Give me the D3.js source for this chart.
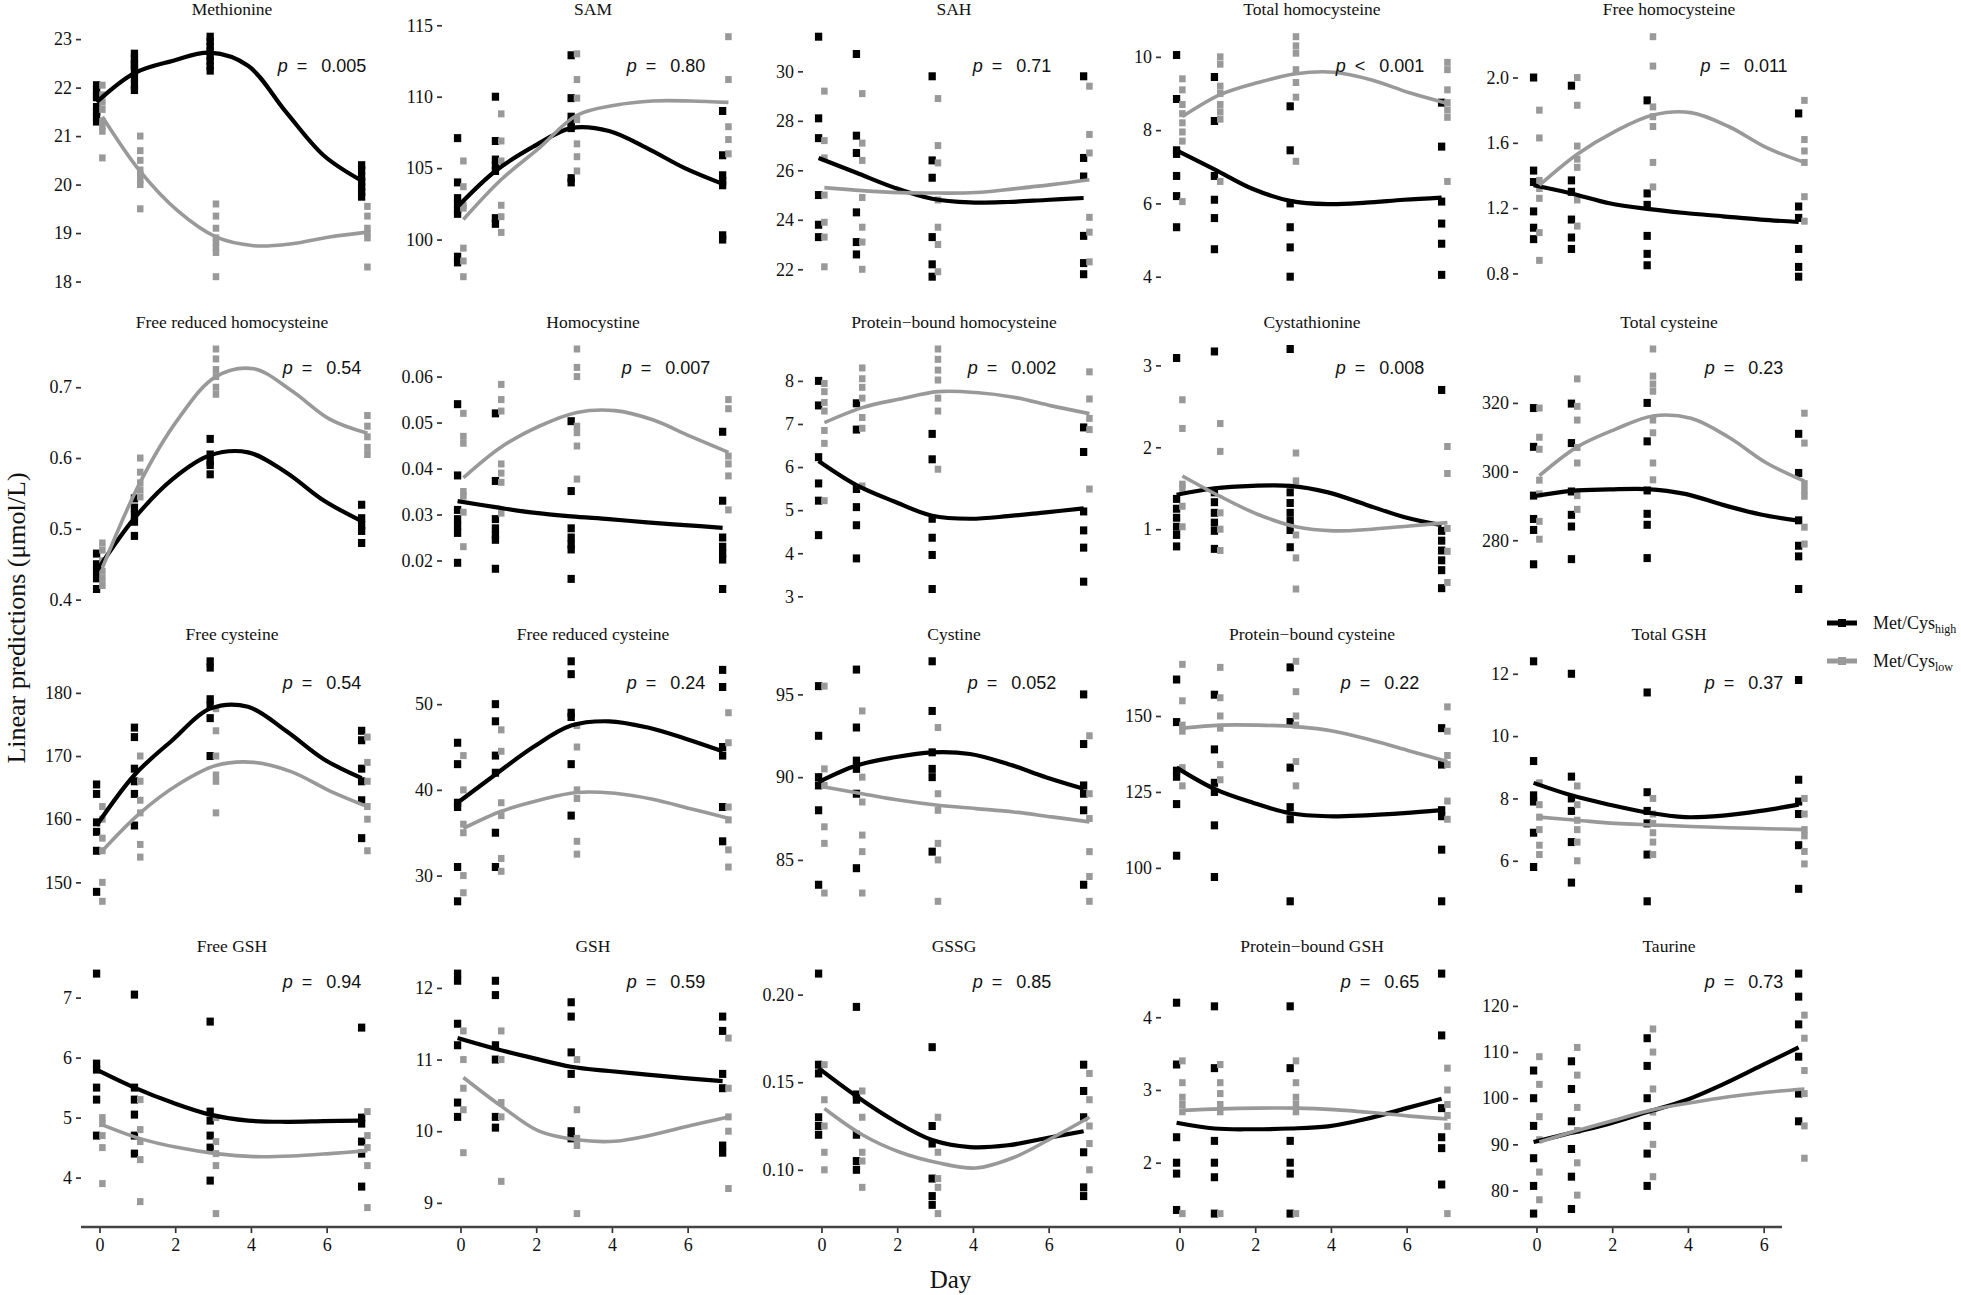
<!DOCTYPE html>
<html><head><meta charset="utf-8">
<script src="https://cdn.jsdelivr.net/npm/d3@7"></script>
<style>body{margin:0;background:#fff}</style>
</head><body><svg id="c" width="1961" height="1295" xmlns="http://www.w3.org/2000/svg"></svg>
<script>
// ---------------- DATA ----------------
const panelTitles = ["Methionine","SAM","SAH","Total homocysteine","Free homocysteine",
  "Free reduced homocysteine","Homocystine","Protein\u2212bound homocysteine","Cystathionine","Total cysteine",
  "Free cysteine","Free reduced cysteine","Cystine","Protein\u2212bound cysteine","Total GSH",
  "Free GSH","GSH","GSSG","Protein\u2212bound GSH","Taurine"];
const pSigns = ["=","=","=","<","=", "=","=","=","=","=", "=","=","=","=","=", "=","=","=","=","="];
const pValues = ["0.005","0.80","0.71","0.001","0.011", "0.54","0.007","0.002","0.008","0.23",
  "0.54","0.24","0.052","0.22","0.37", "0.94","0.59","0.85","0.65","0.73"];
const yTicks = [
  ["18","19","20","21","22","23"],["100","105","110","115"],["22","24","26","28","30"],["4","6","8","10"],["0.8","1.2","1.6","2.0"],
  ["0.4","0.5","0.6","0.7"],["0.02","0.03","0.04","0.05","0.06"],["3","4","5","6","7","8"],["1","2","3"],["280","300","320"],
  ["150","160","170","180"],["30","40","50"],["85","90","95"],["100","125","150"],["6","8","10","12"],
  ["4","5","6","7"],["9","10","11","12"],["0.10","0.15","0.20"],["2","3","4"],["80","90","100","110","120"]
];
const xTicks = [0, 2, 4, 6];
const pointDays = [0, 1, 3, 7];
const curveDays = [0, 1, 2, 3, 4, 5, 6, 7];
const groupNames = ["high", "low"];

// individual observations, Met/Cys high, per panel: [day0, day1, day3, day7]
const highPoints = [
  [[22.05,21.95,21.85,21.8,21.6,21.5,21.4,21.3],[22.7,22.6,22.5,22.45,22.35,22.2,22.05,21.95],[23.05,22.95,22.85,22.75,22.65,22.55,22.45,22.35],[20.4,20.3,20.15,20.05,19.95,19.85,19.75]],
  [[107.1,104.0,102.9,102.5,102.1,101.8,98.8,98.4],[110.0,106.9,105.6,105.2,104.8,101.5,101.1],[112.9,109.9,108.6,108.2,107.8,104.3,104.0],[109.0,105.9,104.5,104.1,103.8,100.3,100.0]],
  [[31.4,28.1,27.3,25.0,23.8,23.3],[30.7,27.4,26.7,24.3,23.1,22.6],[29.8,26.4,25.7,23.3,22.2,21.7],[29.8,26.5,25.75,23.35,22.25,21.8]],
  [[10.05,8.85,7.45,7.35,6.75,6.2,5.35],[9.45,8.25,6.75,6.1,5.6,4.75],[8.65,7.45,6.0,5.35,4.8,4.0],[8.75,7.55,6.05,5.45,4.9,4.05]],
  [[2.0,1.43,1.36,1.18,1.08,1.01],[1.95,1.37,1.30,1.13,1.02,0.95],[1.86,1.29,1.22,1.03,0.92,0.85],[1.78,1.21,1.14,0.95,0.84,0.78]],
  [[0.465,0.45,0.44,0.43,0.415],[0.543,0.53,0.52,0.51,0.49],[0.627,0.605,0.595,0.59,0.577],[0.534,0.515,0.505,0.497,0.48]],
  [[0.054,0.0385,0.031,0.029,0.0275,0.026,0.0195],[0.052,0.0373,0.029,0.027,0.0255,0.0245,0.0182],[0.0503,0.0351,0.027,0.025,0.0235,0.0224,0.016],[0.048,0.033,0.025,0.023,0.0215,0.0202,0.0138]],
  [[8.0,7.43,6.23,5.62,5.22,4.42],[7.48,6.87,5.49,5.07,4.65,3.88],[6.77,6.18,4.8,4.36,3.96,3.17],[6.92,6.35,4.97,4.53,4.13,3.34]],
  [[3.09,1.37,1.25,1.14,1.03,0.93,0.79],[3.17,1.45,1.33,1.2,1.08,0.98,0.76],[3.2,1.45,1.32,1.2,1.1,0.99,0.78],[2.70,0.98,0.86,0.74,0.62,0.5,0.28]],
  [[318.5,307.2,293,286.2,283,273],[319.8,308.3,294.2,287.4,284,274.5],[320,308.8,294.5,287.7,284.5,274.8],[311,299.6,285.8,278.4,275.3,265.8]],
  [[165.5,164,159.5,158,155,148.5],[174.5,173,168,166,164,159],[185,184,179,178,176,170],[174,172.5,168,166,163,157]],
  [[45.5,43,38.5,38,31,27],[50,48,44,42,35,31],[55,53.5,49,48.5,43,37],[54,52,45,44,38,34]],
  [[95.5,92.5,90,89.5,88,83.5],[96.5,93,91,90.5,89,84.5],[97,94,91.5,90.5,90,85.5],[95,92,89.5,89,88,83.5]],
  [[162,148,132,130,121,104],[157,139,128,125,114,97],[166,148,133,120,116,89],[146,134,119,117,106,89]],
  [[12.4,9.2,8.1,7.9,6.9,5.8],[12.0,8.7,8.0,7.6,6.6,5.3],[11.4,8.2,7.6,7.2,6.2,4.7],[11.8,8.6,7.9,7.5,6.5,5.1]],
  [[7.4,5.9,5.8,5.5,5.3,4.7],[7.05,5.5,5.3,5.05,4.7,4.4],[6.6,5.1,4.95,4.7,4.5,3.95],[6.5,5.0,4.9,4.6,4.4,3.85]],
  [[12.2,12.1,11.5,11.2,10.4,10.2],[12.1,11.9,11.2,11.0,10.2,10.05],[11.8,11.6,11.1,10.8,10.0,9.9],[11.6,11.4,10.8,10.6,9.8,9.7]],
  [[0.212,0.16,0.155,0.13,0.125,0.12],[0.193,0.143,0.14,0.12,0.105,0.10],[0.17,0.125,0.115,0.095,0.085,0.08],[0.16,0.145,0.13,0.11,0.09,0.085]],
  [[4.2,3.35,2.35,2.0,1.85,1.35],[4.15,3.3,2.3,2.0,1.8,1.3],[4.15,3.3,2.3,2.0,1.85,1.3],[4.6,3.75,2.75,2.35,2.2,1.7]],
  [[106,100,94,87,81,75],[108,102,95,89,83,76],[113,107,100,94,88,81],[127,122,116,109,101,95]]
];
// individual observations, Met/Cys low
const lowPoints = [
  [[22.05,21.85,21.7,21.55,21.3,21.2,21.1,20.55],[21.0,20.7,20.5,20.3,20.2,20.1,20.0,19.5],[19.6,19.35,19.1,18.9,18.8,18.7,18.6,18.1],[19.55,19.35,19.1,19.0,18.9,18.3]],
  [[105.5,103.7,102.4,102.2,99.4,98.5,97.4],[108.8,106.9,105.5,102.4,101.6,100.5],[113.0,111.2,109.9,108.4,106.7,105.8,104.8],[114.2,111.2,107.9,107.0,106.0]],
  [[29.2,27.2,26.5,25.0,23.9,23.3,22.1],[29.1,27.1,26.4,24.9,23.7,23.1,22.0],[28.9,27.0,26.3,24.8,23.7,23.0,21.9],[29.4,27.45,26.7,24.1,23.5,22.3]],
  [[9.4,9.1,8.7,8.45,8.2,7.95,7.7,6.05],[10.0,9.8,9.2,9.0,8.7,8.5,8.3,6.6],[10.55,10.3,10.1,9.65,9.3,8.9,7.15],[9.85,9.65,9.1,8.75,8.55,8.35,6.6]],
  [[1.80,1.63,1.37,1.32,1.26,1.05,0.88],[2.0,1.83,1.58,1.5,1.45,1.25,1.09],[2.25,2.07,1.82,1.76,1.70,1.48,1.33],[1.86,1.62,1.55,1.48,1.27,1.12]],
  [[0.48,0.47,0.455,0.44,0.43,0.42],[0.60,0.58,0.565,0.555,0.545],[0.754,0.74,0.725,0.715,0.70,0.69],[0.66,0.645,0.63,0.615,0.605]],
  [[0.052,0.047,0.0455,0.035,0.034,0.0305,0.023],[0.0583,0.055,0.0525,0.041,0.039,0.037,0.0303],[0.066,0.062,0.060,0.0492,0.0478,0.0449,0.0377],[0.055,0.053,0.0427,0.041,0.0384,0.031]],
  [[7.94,7.75,7.5,7.3,6.85,6.55,5.22],[8.3,8.05,7.85,7.6,7.15,6.9,5.56],[8.74,8.5,8.25,8.02,7.6,7.3,5.95],[8.21,7.58,7.13,6.87,5.49]],
  [[2.58,2.23,1.55,1.5,1.28,1.03],[2.29,1.95,1.2,1.0,0.74],[1.93,1.59,0.93,0.65,0.27],[2.01,1.68,1.01,0.73,0.35]],
  [[318.5,310,306.5,297.5,293.5,285.5,280.3],[327,319,315,307,302.5,293,289],[335.7,327.8,325.5,323.4,315,311.3,302.5,297.6],[317,308.3,296.5,294.5,292.8,283.8,278.9]],
  [[162,160,157,155,150,147],[170,166,163,161,156,154],[177.5,174,170,167,166,161],[173,169,166,162,160,155]],
  [[44,40,36,35,30,28],[47,44.5,38.5,37,32,30.5],[47.5,45,40,39,34,32.5],[49,45.5,38,36.5,33,31]],
  [[95.5,90.5,89.5,87,86,83],[94,90,88.5,86.5,85.5,83],[93,89,88,86,85,82.5],[92.5,89,87.5,85.5,84,82.5]],
  [[167,155,147,145,133,127],[166,156,150,146,134,129],[168,158,150,147,135,127],[153,145,137,134,122,116]],
  [[8.5,7.8,7.4,7.0,6.5,6.2],[8.4,7.8,7.3,7.0,6.6,6.0],[8.0,7.5,7.2,6.9,6.6,6.2],[8.0,7.5,7.0,6.8,6.3,5.9]],
  [[5.0,4.9,4.7,4.5,3.9],[5.3,4.8,4.6,4.3,3.6],[5.0,4.6,4.4,4.2,3.4],[5.1,4.7,4.5,4.2,3.5]],
  [[11.4,11.0,10.6,10.3,9.7],[11.4,11.0,10.4,10.2,9.3],[11.0,10.3,9.9,9.8,8.85],[11.3,10.6,10.2,10.0,9.2]],
  [[0.16,0.14,0.125,0.11,0.10],[0.145,0.13,0.11,0.105,0.09],[0.13,0.11,0.095,0.09,0.075],[0.155,0.14,0.125,0.115,0.10]],
  [[3.4,3.1,2.9,2.8,2.7,1.3],[3.35,3.1,2.95,2.8,2.7,1.3],[3.4,3.1,2.9,2.8,2.7,1.3],[3.3,3.0,2.8,2.65,2.5,1.3]],
  [[109,103,96,91,84,78],[111,105,98,93,86,79],[115,110,102,97,90,83],[118,113,106,101,94,87]]
];
// fitted curves read at days 0..7
const highCurve = [
  [21.7,22.3,22.55,22.72,22.45,21.5,20.6,20.08],
  [102.3,104.8,106.5,107.8,107.6,106.4,105.0,103.9],
  [26.5,25.9,25.3,24.85,24.7,24.72,24.8,24.88],
  [7.45,6.93,6.4,6.07,5.98,6.02,6.1,6.16],
  [1.34,1.29,1.23,1.195,1.17,1.15,1.13,1.115],
  [0.44,0.515,0.57,0.604,0.608,0.58,0.54,0.511],
  [0.0329,0.0316,0.0304,0.0296,0.029,0.0283,0.0277,0.0271],
  [6.14,5.58,5.2,4.87,4.8,4.86,4.95,5.04],
  [1.42,1.5,1.53,1.53,1.45,1.3,1.15,1.05],
  [292.8,294.4,294.8,294.9,293.5,290.3,287.5,285.7],
  [159,167,172.5,177.5,177.8,174,169.5,166.5],
  [38.5,41.8,45,47.5,48,47.3,46,44.5],
  [89.7,90.7,91.2,91.5,91.4,90.8,90,89.3],
  [133,126,121.5,118,117,117.3,118,119],
  [8.5,8.1,7.8,7.55,7.4,7.45,7.6,7.8],
  [5.8,5.5,5.25,5.05,4.95,4.93,4.94,4.95],
  [11.3,11.15,11.02,10.9,10.84,10.79,10.74,10.7],
  [0.158,0.142,0.128,0.117,0.113,0.114,0.118,0.122],
  [2.55,2.47,2.46,2.47,2.5,2.6,2.74,2.88],
  [90.5,92.5,94.5,97,99.5,103,107,111]
];
const lowCurve = [
  [21.4,20.27,19.45,18.92,18.74,18.78,18.92,19.02],
  [101.4,104.2,106.4,108.7,109.4,109.7,109.7,109.6],
  [25.3,25.18,25.1,25.08,25.1,25.25,25.42,25.62],
  [8.37,8.97,9.3,9.54,9.58,9.37,9.02,8.73],
  [1.34,1.53,1.67,1.77,1.785,1.7,1.57,1.48],
  [0.445,0.566,0.655,0.715,0.726,0.695,0.655,0.635],
  [0.038,0.0447,0.0492,0.0522,0.0526,0.0506,0.047,0.0435],
  [7.03,7.38,7.58,7.75,7.73,7.62,7.42,7.24],
  [1.65,1.4,1.18,1.03,0.98,1.0,1.04,1.08],
  [298.8,307.2,312.3,316.2,315.5,310,302.5,297.2],
  [155,161,165.5,168.5,169,167.5,164.5,162],
  [35.5,37.5,38.8,39.7,39.6,38.9,37.8,36.7],
  [89.4,89,88.6,88.3,88.1,87.9,87.6,87.3],
  [146,147,147,146.5,145,142,138.5,135],
  [7.4,7.3,7.2,7.15,7.1,7.06,7.03,7.0],
  [4.88,4.65,4.5,4.4,4.35,4.36,4.4,4.45],
  [10.75,10.35,10.0,9.88,9.86,9.95,10.08,10.2],
  [0.135,0.12,0.11,0.104,0.101,0.107,0.118,0.13],
  [2.72,2.74,2.75,2.75,2.73,2.69,2.64,2.6],
  [90.5,93,95.3,97.5,99,100.3,101.3,102]
];
const legendLabels = [["Met/Cys","high"],["Met/Cys","low"]];

// ---------------- LAYOUT / STYLE ----------------
const svg = d3.select("#c");
svg.append("rect").attr("width",1961).attr("height",1295).attr("fill","#fff");
const colLeft = [81, 442, 803, 1161, 1518];
const panelW = 302, panelH = 264;
const rowTop = r => 24.7 + 312.3 * r;
const pCenter = [241, 224, 209, 219, 226];
const pFrac = [0.179, 0.14, 0.15, 0.10];
const colors = {high: "#000000", low: "#999999"};
const dodge = {high: -2.9, low: 2.9};
const serif = "'Liberation Serif','Times New Roman',serif";
const sans = "'Liberation Sans',Arial,sans-serif";

const x = d3.scaleLinear().domain([-0.488, 7.488]).range([0, panelW]);

panelTitles.forEach((title, i) => {
  const c = i % 5, r = Math.floor(i / 5);
  const g = svg.append("g").attr("transform", `translate(${colLeft[c]},${rowTop(r)})`);
  const all = [...highPoints[i].flat(), ...lowPoints[i].flat(), ...highCurve[i], ...lowCurve[i]];
  const [mn, mx] = d3.extent(all);
  const pad = (mx - mn) * 0.05;
  const y = d3.scaleLinear().domain([mn - pad, mx + pad]).range([panelH, 0]);

  // y axis
  const ax = g.append("g").call(
    d3.axisLeft(y).tickValues(yTicks[i].map(Number)).tickSize(5).tickPadding(4)
      .tickFormat((d, k) => yTicks[i][k]));
  ax.select(".domain").remove();
  ax.selectAll("line").attr("stroke", "#333").attr("stroke-width", 1.7);
  ax.selectAll("text").attr("font-family", serif).attr("font-size", 18).attr("fill", "#111");

  // title
  g.append("text").attr("x", panelW / 2).attr("y", -9.5).attr("text-anchor", "middle")
    .attr("font-family", serif).attr("font-size", 17.5).attr("fill", "#111").text(title);

  // points
  [["high", highPoints[i]], ["low", lowPoints[i]]].forEach(([grp, sets]) => {
    const w = grp === "high" ? 7.3 : 6.5, h = grp === "high" ? 8 : 7;
    const pts = sets.flatMap((vals, k) => vals.map(v => ({day: pointDays[k], v})));
    g.append("g").selectAll("rect").data(pts).join("rect")
      .attr("x", d => x(d.day) + dodge[grp] - w / 2)
      .attr("y", d => y(d.v) - h / 2)
      .attr("width", w).attr("height", h)
      .attr("fill", colors[grp]);
  });

  // curves
  [["high", highCurve[i], 4.2], ["low", lowCurve[i], 3.6]].forEach(([grp, vals, sw]) => {
    const line = d3.line().x((d, k) => x(curveDays[k]) + dodge[grp]).y(d => y(d))
      .curve(d3.curveCatmullRom.alpha(0.5));
    g.append("path").attr("d", line(vals)).attr("fill", "none")
      .attr("stroke", colors[grp]).attr("stroke-width", sw).attr("stroke-linecap", "butt");
  });

  // p label
  const t = g.append("text").attr("x", pCenter[c]).attr("y", panelH * pFrac[r])
    .attr("text-anchor", "middle").attr("font-family", sans).attr("font-size", 18).attr("fill", "#111");
  t.append("tspan").attr("font-style", "italic").text("p");
  t.append("tspan").text("\u2002" + pSigns[i] + "\u2002 " + pValues[i]);
});

// bottom x axis
const axisY = rowTop(3) + panelH + 1.5;
svg.append("line").attr("x1", colLeft[0]).attr("x2", 1782).attr("y1", axisY).attr("y2", axisY)
  .attr("stroke", "#444").attr("stroke-width", 2.5);
colLeft.forEach(cl => {
  const gx = svg.append("g").attr("transform", `translate(${cl},${axisY + 1})`).call(
    d3.axisBottom(x).tickValues(xTicks).tickSize(5).tickPadding(5));
  gx.select(".domain").remove();
  gx.selectAll("line").attr("stroke", "#333").attr("stroke-width", 1.7);
  gx.selectAll("text").attr("font-family", serif).attr("font-size", 18).attr("fill", "#111");
});

// axis titles
svg.append("text").attr("x", (colLeft[0] + colLeft[4] + panelW) / 2).attr("y", 1288).attr("text-anchor", "middle")
  .attr("font-family", serif).attr("font-size", 25).attr("fill", "#111").text("Day");
svg.append("text").attr("transform", "translate(25,618) rotate(-90)").attr("text-anchor", "middle")
  .attr("font-family", serif).attr("font-size", 26).attr("fill", "#111").text("Linear predictions (\u03bcmol/L)");

// legend
const lg = svg.append("g").attr("transform", "translate(1827,623)");
groupNames.forEach((grp, k) => {
  const gy = k * 38;
  lg.append("line").attr("x1", 0).attr("x2", 30).attr("y1", gy).attr("y2", gy)
    .attr("stroke", colors[grp]).attr("stroke-width", 5);
  lg.append("rect").attr("x", 11).attr("y", gy - 4).attr("width", 8).attr("height", 8).attr("fill", colors[grp]);
  const tx = lg.append("text").attr("x", 46).attr("y", gy + 6).attr("font-family", serif)
    .attr("font-size", 18).attr("fill", "#111");
  tx.append("tspan").text(legendLabels[k][0]);
  tx.append("tspan").attr("font-size", 12).attr("dy", 4).text(legendLabels[k][1]);
});
</script></body></html>
